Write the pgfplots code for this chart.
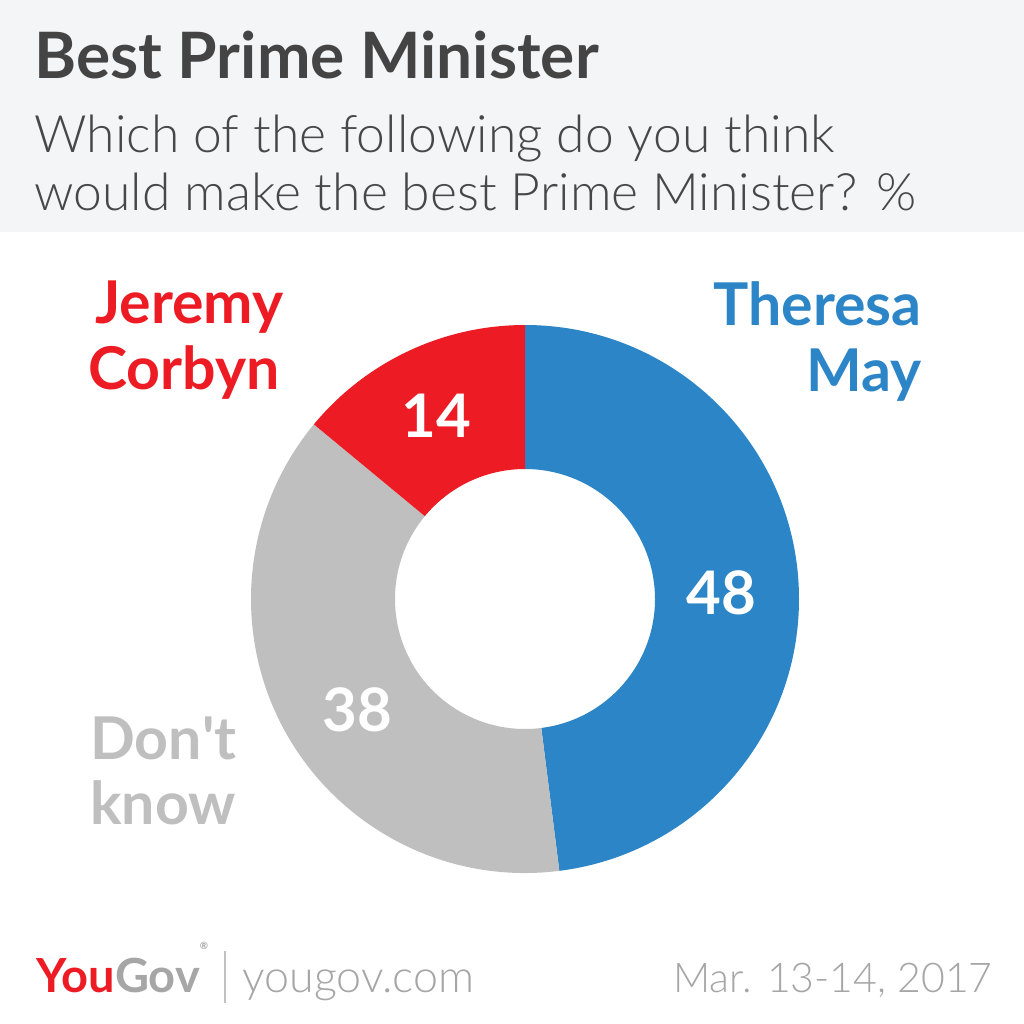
\documentclass[border=0pt]{standalone}
\usepackage{pgfplots}
\pgfplotsset{compat=1.18}
\usepackage{pgfplotstable}
\usepackage{fontspec}
\setmainfont{Lato}
\newfontfamily\lightfont{Lato Light}

\definecolor{headbg}{HTML}{F4F5F7}
\definecolor{titlecol}{HTML}{444444}
\definecolor{subcol}{HTML}{474747}
\definecolor{maycol}{HTML}{2B85C6}
\definecolor{corbcol}{HTML}{ED1C24}
\definecolor{dkcol}{HTML}{BFBFBF}
\definecolor{footcol}{HTML}{A6A6A6}

% share of respondents, clockwise from 12 o'clock
\pgfplotstableread{
name value
May 48
DontKnow 38
Corbyn 14
}\pmdata

\begin{document}
\begin{tikzpicture}
\pgfplotstablegetelem{0}{value}\of\pmdata \pgfmathsetmacro\aA{90-3.6*\pgfplotsretval}
\pgfplotstablegetelem{1}{value}\of\pmdata \pgfmathsetmacro\aB{\aA-3.6*\pgfplotsretval}
\pgfplotstablegetelem{2}{value}\of\pmdata \pgfmathsetmacro\aC{\aB-3.6*\pgfplotsretval}

\begin{axis}[
    hide axis,
    scale only axis,
    width=512pt,
    height=512pt,
    xmin=0, xmax=1024,
    ymin=0, ymax=1024,
    y dir=reverse,
    clip=false,
]
% background and header band
\fill[white] (axis cs:0,0) rectangle (axis cs:1024,1024);
\fill[headbg] (axis cs:0,0) rectangle (axis cs:1024,232);

% donut
\begin{scope}[shift={(axis cs:525,599)}]
\fill[maycol] (90:137pt) arc[start angle=90,end angle=\aA,radius=137pt]
    -- (\aA:65pt) arc[start angle=\aA,end angle=90,radius=65pt] -- cycle;
\fill[dkcol] (\aA:137pt) arc[start angle=\aA,end angle=\aB,radius=137pt]
    -- (\aB:65pt) arc[start angle=\aB,end angle=\aA,radius=65pt] -- cycle;
\fill[corbcol] (\aB:137pt) arc[start angle=\aB,end angle=\aC,radius=137pt]
    -- (\aC:65pt) arc[start angle=\aC,end angle=\aB,radius=65pt] -- cycle;
\end{scope}

% titles
\node[anchor=base west,inner sep=0,text=titlecol,font=\fontsize{32}{38}\selectfont\bfseries]
    at (axis cs:34,78) {Best Prime Minister};
\node[anchor=base west,inner sep=0,text=subcol,font=\fontsize{25.8}{31}\selectfont\lightfont]
    at (axis cs:34,152) {Which of the following do you think};
\node[anchor=base west,inner sep=0,text=subcol,font=\fontsize{25.8}{31}\selectfont\lightfont]
    at (axis cs:34,210) {would make the best Prime Minister? \%};

% segment labels
\tikzset{seglab/.style={inner sep=0,font=\fontsize{29.5}{35}\selectfont\bfseries}}
\node[seglab,anchor=base east,text=corbcol] at (axis cs:284,323) {Jeremy};
\node[seglab,anchor=base east,text=corbcol] at (axis cs:280,389) {Corbyn};
\node[seglab,anchor=base east,text=maycol] at (axis cs:922,325) {Theresa};
\node[seglab,anchor=base east,text=maycol] at (axis cs:922,391) {May};
\node[seglab,anchor=base west,text=dkcol] at (axis cs:90,759) {Don\textquotesingle t};
\node[seglab,anchor=base west,text=dkcol] at (axis cs:90,824) {know};

% values
\tikzset{vallab/.style={inner sep=0,anchor=base,text=white,font=\fontsize{30}{36}\selectfont\bfseries}}
\node[vallab] at (axis cs:436,437) {14};
\node[vallab] at (axis cs:721,614) {48};
\node[vallab] at (axis cs:357,731) {38};

% footer
\node[anchor=base west,inner sep=0,font=\fontsize{23.5}{28}\selectfont\bfseries]
    at (axis cs:36,992) {\textcolor{corbcol}{You}\textcolor{footcol}{Gov}\textcolor{footcol}{\raisebox{0.9em}{\fontsize{5}{6}\selectfont\textregistered}}};
\draw[color=footcol!70,line width=1pt] (axis cs:225,951) -- (axis cs:225,1003);
\node[anchor=base west,inner sep=0,text=footcol,font=\fontsize{22.4}{27}\selectfont\lightfont]
    at (axis cs:242,992) {yougov.com};
\node[anchor=base east,inner sep=0,text=footcol,font=\fontsize{20.5}{25}\selectfont\lightfont]
    at (axis cs:993,992) {Mar. 13-14, 2017};
\end{axis}
\end{tikzpicture}
\end{document}
